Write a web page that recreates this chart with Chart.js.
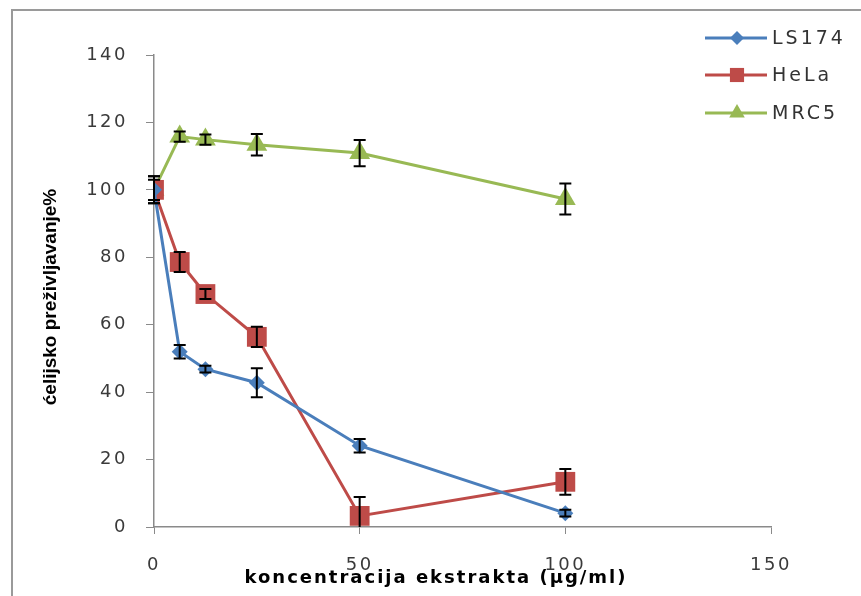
<!DOCTYPE html>
<html>
<head>
<meta charset="utf-8">
<script src="https://cdn.jsdelivr.net/npm/chart.js@4/dist/chart.umd.min.js"></script>
<style>
  html, body { margin: 0; padding: 0; background: #fff; overflow: hidden; }
  #wrap { width: 861px; height: 596px; position: relative; }
</style>
</head>
<body>
<div id="wrap"><canvas id="viabilityChart"></canvas></div>
<script>
// concentrations (µg/ml)
const concentrations = [0, 6.25, 12.5, 25, 50, 100];

// cell survival %
const ls174 = [100, 52, 46.8, 42.8, 24.1, 4.1];
const hela = [100, 78.6, 69.1, 56.4, 3.3, 13.4];
const mrc5 = [100, 115.8, 114.9, 113.4, 110.9, 97.3];

// error bars (±)
const ls174Err = [4, 2, 1, 4.3, 2, 1];
const helaErr = [4, 3, 1.5, 3, 5.6, 3.8];
const mrc5Err = [3, 1.5, 1.5, 3.2, 3.9, 4.6];

const xTicks = [0, 50, 100, 150];
const yTicks = [0, 20, 40, 60, 80, 100, 120, 140];

const FONT = '"DejaVu Sans", Verdana, "Noto Sans", sans-serif';

const toPoints = vals => concentrations.map((c, i) => ({ x: c, y: vals[i] }));

function drawMarker(ctx, style, x, y, r, color) {
  ctx.fillStyle = color;
  ctx.beginPath();
  if (style === 'rectRot') {
    ctx.moveTo(x, y - r); ctx.lineTo(x + r, y); ctx.lineTo(x, y + r); ctx.lineTo(x - r, y);
  } else if (style === 'rect') {
    const s = r * Math.SQRT1_2;
    ctx.rect(x - s, y - s, 2 * s, 2 * s);
  } else {
    const a = 2 * Math.PI / 3;
    ctx.moveTo(x, y - r);
    ctx.lineTo(x + Math.sin(a) * r, y - Math.cos(a) * r);
    ctx.lineTo(x + Math.sin(2 * a) * r, y - Math.cos(2 * a) * r);
  }
  ctx.closePath();
  ctx.fill();
}

// error bars over the markers
const errorBars = {
  id: 'errorBars',
  afterDatasetsDraw(chart) {
    const { ctx, chartArea, scales } = chart;
    ctx.save();
    ctx.beginPath();
    ctx.rect(chartArea.left - 10, chartArea.top - 10, chartArea.width + 20, chartArea.height + 10);
    ctx.clip();
    ctx.strokeStyle = '#000';
    ctx.lineWidth = 2;
    chart.data.datasets.forEach(ds => {
      ds.data.forEach((p, i) => {
        const e = ds.errors[i];
        const x = scales.x.getPixelForValue(p.x);
        const yt = scales.y.getPixelForValue(p.y + e);
        const yb = scales.y.getPixelForValue(p.y - e);
        ctx.beginPath();
        ctx.moveTo(x, yt); ctx.lineTo(x, yb);
        ctx.moveTo(x - 6, yt); ctx.lineTo(x + 6, yt);
        if (p.y - e >= 0) { ctx.moveTo(x - 6, yb); ctx.lineTo(x + 6, yb); }
        ctx.stroke();
      });
    });
    ctx.restore();
  }
};

// frame, legend and axis titles
const decorations = {
  id: 'decorations',
  beforeDraw(chart) {
    const ctx = chart.ctx;
    ctx.save();
    ctx.strokeStyle = '#9a9a9a';
    ctx.lineWidth = 2;
    ctx.beginPath();
    ctx.moveTo(12, 596); ctx.lineTo(12, 10); ctx.lineTo(861, 10);
    ctx.stroke();
    ctx.restore();
    ctx.letterSpacing = '2.5px'; // wide tick labels
  },
  beforeDatasetsDraw(chart) {
    chart.ctx.letterSpacing = '0px';
  },
  afterDraw(chart) {
    const ctx = chart.ctx;
    ctx.save();
    const rows = [38, 75, 113];
    const sizes = { rectRot: 7, rect: 10, triangle: 9 };
    chart.data.datasets.forEach((ds, i) => {
      const y = rows[i];
      ctx.strokeStyle = ds.borderColor;
      ctx.lineWidth = 3;
      ctx.beginPath();
      ctx.moveTo(705, y); ctx.lineTo(767, y);
      ctx.stroke();
      drawMarker(ctx, ds.pointStyle, 737, y, sizes[ds.pointStyle], ds.backgroundColor);
      ctx.fillStyle = '#333';
      ctx.font = '19px ' + FONT;
      ctx.letterSpacing = '3px';
      ctx.textAlign = 'left';
      ctx.textBaseline = 'middle';
      ctx.fillText(ds.label, 772, y + 1);
    });
    ctx.fillStyle = '#000';
    ctx.font = 'bold 18px ' + FONT;
    ctx.letterSpacing = '2px';
    ctx.textAlign = 'center';
    ctx.textBaseline = 'middle';
    ctx.fillText('koncentracija ekstrakta (µg/ml)', 436, 578);

    ctx.letterSpacing = '0px';
    ctx.translate(51, 297);
    ctx.rotate(-Math.PI / 2);
    ctx.font = 'bold 19px "Liberation Sans Narrow", "Liberation Sans"';
    ctx.fillText('ćelijsko preživljavanje%', 0, 0);
    ctx.restore();
  }
};

function buildChart() {
  const ctx = document.getElementById('viabilityChart').getContext('2d');
  return new Chart(ctx, {
    type: 'line',
    data: {
      datasets: [{
        label: 'LS174',
        data: toPoints(ls174),
        errors: ls174Err,
        borderColor: '#4a7ebb',
        backgroundColor: '#4a7ebb',
        borderWidth: 3,
        pointStyle: 'rectRot',
        pointRadius: 8,
        pointBorderWidth: 0
      }, {
        label: 'HeLa',
        data: toPoints(hela),
        errors: helaErr,
        borderColor: '#be4b48',
        backgroundColor: '#be4b48',
        borderWidth: 3,
        pointStyle: 'rect',
        pointRadius: 14,
        pointBorderWidth: 0
      }, {
        label: 'MRC5',
        data: toPoints(mrc5),
        errors: mrc5Err,
        borderColor: '#98b954',
        backgroundColor: '#98b954',
        borderWidth: 3,
        pointStyle: 'triangle',
        pointRadius: 12,
        pointBorderWidth: 0
      }]
    },
    options: {
      responsive: true,
      maintainAspectRatio: false,
      animation: false,
      layout: { padding: { left: 0, top: 55, right: 90, bottom: 0 } },
      plugins: { legend: { display: false }, tooltip: { enabled: false } },
      scales: {
        x: {
          type: 'linear',
          min: 0,
          max: 150,
          afterFit: s => { s.height = 69; },
          afterBuildTicks: s => { s.ticks = xTicks.map(v => ({ value: v })); },
          border: { color: '#8a8a8a', width: 1.5 },
          grid: { drawOnChartArea: false, tickColor: '#8a8a8a', tickLength: 7 },
          ticks: { color: '#3a3a3a', font: { family: FONT, size: 18 }, padding: 21, maxRotation: 0 }
        },
        y: {
          min: 0,
          max: 140,
          afterFit: s => { s.width = 154; },
          afterBuildTicks: s => { s.ticks = yTicks.map(v => ({ value: v })); },
          border: { color: '#8a8a8a', width: 1.5 },
          grid: { drawOnChartArea: false, tickColor: '#8a8a8a', tickLength: 8 },
          ticks: { color: '#3a3a3a', font: { family: FONT, size: 18 }, padding: 18 }
        }
      }
    },
    plugins: [errorBars, decorations]
  });
}

Promise.all([
  document.fonts.load('18px "DejaVu Sans"'),
  document.fonts.load('bold 18px "DejaVu Sans"'),
  document.fonts.load('bold 19px "Liberation Sans Narrow"')
]).catch(() => {}).then(buildChart);
</script>
</body>
</html>
